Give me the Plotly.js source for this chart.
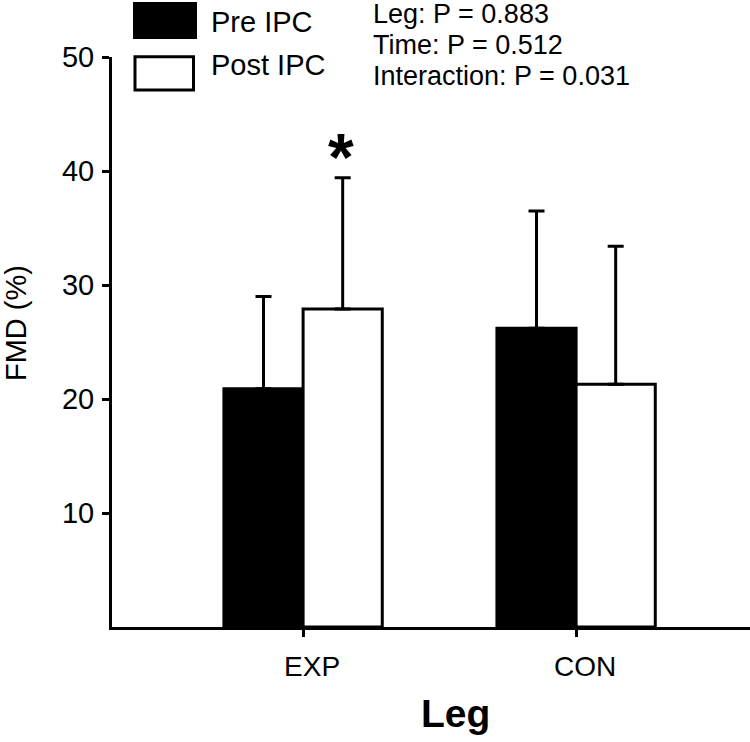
<!DOCTYPE html>
<html>
<head>
<meta charset="utf-8">
<script src="https://cdn.plot.ly/plotly-3.0.1.min.js"></script>
<style>html,body{margin:0;padding:0;background:#fff;}#chart{width:750px;height:742px;}</style>
</head>
<body>
<div id="chart"></div>
<script>
// ---- data ----
var categories = ['EXP', 'CON'];
var seriesNames = ['Pre IPC', 'Post IPC'];
var preMean = [20.9, 26.2];
var preSD = [8.1, 10.3];
var postMean = [27.9, 21.3];
var postSD = [11.5, 12.1];
var yTickVals = [10, 20, 30, 40, 50];
var yTickText = ['10', '20', '30', '40', '50'];
var statsLines = ['Leg: P = 0.883', 'Time: P = 0.512', 'Interaction: P = 0.031'];
var xTitle = 'Leg';
var yTitle = 'FMD (%)';
var sigMark = '*';

// ---- layout helpers (pixel -> paper) ----
var W = 750, H = 742;
var mL = 112, mR = 0, mT = 57, mB = 115;
var pw = W - mL - mR, ph = H - mT - mB;
function px(x) { return (x - mL) / pw; }
function py(y) { return (H - mB - y) / ph; }

var FONT = 'Liberation Sans, Arial, Helvetica, sans-serif';

var traces = [
  {
    type: 'bar', name: seriesNames[0], x: categories, y: preMean,
    marker: {color: '#000', line: {color: '#000', width: 3}},
    error_y: {type: 'data', symmetric: false, array: preSD, arrayminus: [0, 0],
              color: '#000', thickness: 3, width: 8},
    hoverinfo: 'none'
  },
  {
    type: 'bar', name: seriesNames[1], x: categories, y: postMean,
    marker: {color: '#fff', line: {color: '#000', width: 3}},
    error_y: {type: 'data', symmetric: false, array: postSD, arrayminus: [0, 0],
              color: '#000', thickness: 3, width: 8},
    hoverinfo: 'none'
  }
];

var annotations = [];
// legend text
annotations.push({xref: 'paper', yref: 'paper', x: px(210), y: py(22), xanchor: 'left', yanchor: 'middle',
  borderpad: 0, text: seriesNames[0], showarrow: false, font: {family: FONT, size: 29, color: '#000'}});
annotations.push({xref: 'paper', yref: 'paper', x: px(210), y: py(65), xanchor: 'left', yanchor: 'middle',
  borderpad: 0, text: seriesNames[1], showarrow: false, font: {family: FONT, size: 29, color: '#000'}});
// stats
var statY = [14, 45, 76];
statsLines.forEach(function (s, i) {
  annotations.push({xref: 'paper', yref: 'paper', x: px(372), y: py(statY[i]), xanchor: 'left', yanchor: 'middle',
    borderpad: 0, text: s, showarrow: false, font: {family: FONT, size: 27, color: '#000'}});
});
// axis titles
annotations.push({xref: 'paper', yref: 'paper', x: px(455), y: py(713), xanchor: 'center', yanchor: 'middle',
  text: '<b>' + xTitle + '</b>', showarrow: false, font: {family: FONT, size: 39, color: '#000'}});
annotations.push({xref: 'paper', yref: 'paper', x: px(16), y: py(323), xanchor: 'center', yanchor: 'middle',
  text: yTitle, textangle: -90, showarrow: false, font: {family: FONT, size: 29, color: '#000'}});
// significance star above EXP post bar
annotations.push({xref: 'x', yref: 'y', x: 0.14, y: postMean[0] + postSD[0], xanchor: 'center', yanchor: 'bottom',
  yshift: -18, text: '<b>' + sigMark + '</b>', showarrow: false, font: {family: FONT, size: 66, color: '#000'}});

var shapes = [
  {type: 'rect', xref: 'paper', yref: 'paper', x0: px(133), x1: px(197), y0: py(39), y1: py(2),
   fillcolor: '#000', line: {color: '#000', width: 0}},
  {type: 'rect', xref: 'paper', yref: 'paper', x0: px(135), x1: px(193.5), y0: py(90), y1: py(56.7),
   fillcolor: '#fff', line: {color: '#000', width: 3}}
];

var layout = {
  width: W, height: H,
  margin: {l: mL, r: mR, t: mT, b: mB, pad: 0},
  paper_bgcolor: '#fff', plot_bgcolor: '#fff',
  showlegend: false,
  barmode: 'group', bargap: 0.42, bargroupgap: 0,
  font: {family: FONT, color: '#000'},
  xaxis: {
    type: 'category', range: [-0.70, 1.637], fixedrange: true,
    showline: true, linecolor: '#000', linewidth: 3, mirror: false,
    showgrid: false, zeroline: false,
    ticks: 'outside', ticklen: 7, tickwidth: 3, tickcolor: '#000',
    ticklabelshift: 9, ticklabelstandoff: 5,
    tickfont: {family: FONT, size: 28, color: '#000'}
  },
  yaxis: {
    range: [0, 50], fixedrange: true,
    showline: true, linecolor: '#000', linewidth: 3,
    showgrid: false, zeroline: false,
    tickvals: yTickVals, ticktext: yTickText,
    ticks: 'outside', ticklen: 7, tickwidth: 3, tickcolor: '#000',
    ticklabelstandoff: 2,
    tickfont: {family: FONT, size: 29, color: '#000'}
  },
  annotations: annotations,
  shapes: shapes
};

Plotly.newPlot('chart', traces, layout, {displayModeBar: false, staticPlot: true});
</script>
</body>
</html>
